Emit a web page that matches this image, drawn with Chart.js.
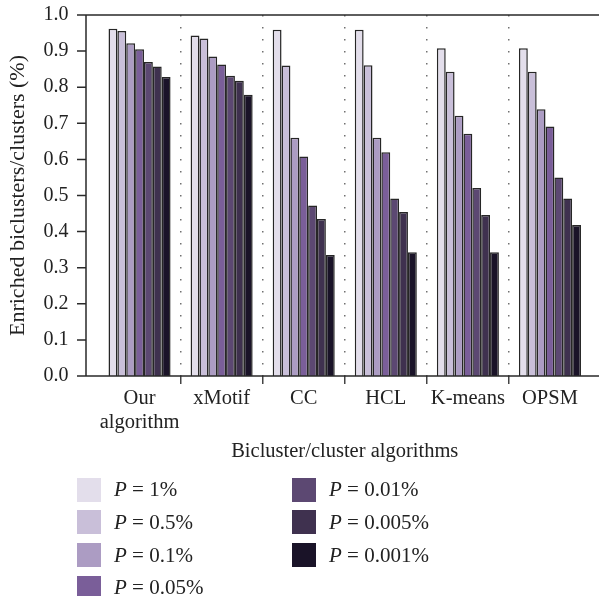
<!DOCTYPE html>
<html>
<head>
<meta charset="utf-8">
<script src="https://cdn.jsdelivr.net/npm/chart.js@4.4.1/dist/chart.umd.min.js"></script>
<style>
  body { margin: 0; background: #fff; }
  #page { position: relative; width: 599px; height: 596px; overflow: hidden; font-family: "Liberation Serif", "Times New Roman", serif; color: #222; }
  #wrap { position: absolute; left: 0; top: 0; width: 599px; height: 470px; }
  #legend { position: absolute; left: 0; top: 0; width: 599px; height: 596px; pointer-events: none; }
  .item { position: absolute; display: flex; align-items: center; font-size: 21px; white-space: nowrap; }
  .box { width: 24px; height: 24px; margin-right: 13px; }
</style>
</head>
<body>
<div id="page">
  <div id="wrap"><canvas id="bars"></canvas></div>
  <div id="legend"></div>
</div>
<script>
var algorithms = [['Our', 'algorithm'], 'xMotif', 'CC', 'HCL', 'K-means', 'OPSM'];
var pLevels = ['P = 1%', 'P = 0.5%', 'P = 0.1%', 'P = 0.05%', 'P = 0.01%', 'P = 0.005%', 'P = 0.001%'];
var colors = ['#E3DEEB', '#C9BFD9', '#AC9CC3', '#7A5E99', '#5C4872', '#3F314F', '#1A1328'];

// one array per P level, values for the six algorithms
var p1    = [0.962, 0.943, 0.959, 0.959, 0.908, 0.908];
var p05   = [0.956, 0.935, 0.860, 0.861, 0.843, 0.843];
var p01   = [0.922, 0.885, 0.660, 0.660, 0.721, 0.739];
var p005  = [0.905, 0.863, 0.608, 0.620, 0.671, 0.691];
var p001  = [0.870, 0.832, 0.472, 0.492, 0.521, 0.550];
var p0005 = [0.857, 0.818, 0.435, 0.454, 0.446, 0.492];
var p0001 = [0.828, 0.779, 0.335, 0.343, 0.343, 0.418];
var series = [p1, p05, p01, p005, p001, p0005, p0001];

var yTicks = [0, 0.1, 0.2, 0.3, 0.4, 0.5, 0.6, 0.7, 0.8, 0.9, 1.0];

var serif = '"Liberation Serif", "Times New Roman", serif';

// y axis line sits a bit left of the first category, draw it by hand
var axisFrame = {
    id: 'axisFrame',
    afterDatasetsDraw: function(chart) {
        var ctx = chart.ctx, a = chart.chartArea, y = chart.scales.y;
        var axisX = a.left - 12.5;
        ctx.save();
        ctx.strokeStyle = '#2a2a2a';
        ctx.lineWidth = 1.5;
        ctx.beginPath();
        ctx.moveTo(axisX, a.top);
        ctx.lineTo(axisX, a.bottom);
        ctx.moveTo(axisX, a.top);
        ctx.lineTo(chart.width, a.top);
        ctx.moveTo(axisX - 9, a.bottom);
        ctx.lineTo(chart.width, a.bottom);
        y.ticks.forEach(function(t) {
            var py = y.getPixelForValue(t.value);
            ctx.moveTo(axisX - 9, py);
            ctx.lineTo(axisX, py);
        });
        ctx.stroke();
        ctx.restore();
    }
};

var htmlLegend = {
    id: 'htmlLegend',
    afterUpdate: function(chart) {
        var box = document.getElementById('legend');
        box.innerHTML = '';
        var items = chart.options.plugins.legend.labels.generateLabels(chart);
        items.forEach(function(item, i) {
            var col = i < 4 ? 0 : 1;
            var row = i < 4 ? i : i - 4;
            var el = document.createElement('div');
            el.className = 'item';
            el.style.left = (col === 0 ? 77 : 292) + 'px';
            el.style.top = (477 + row * 32.8) + 'px';
            var sw = document.createElement('span');
            sw.className = 'box';
            sw.style.background = item.fillStyle;
            var tx = document.createElement('span');
            tx.innerHTML = '<i>P</i>' + item.text.slice(1);
            el.appendChild(sw);
            el.appendChild(tx);
            box.appendChild(el);
        });
    }
};

var ctx = document.getElementById('bars');
var barChart = new Chart(ctx, {
    type: 'bar',
    data: {
        labels: algorithms,
        datasets: series.map(function(s, i) {
            return {
                label: pLevels[i],
                data: s,
                backgroundColor: colors[i],
                borderColor: '#262626',
                borderWidth: 1.5,
                categoryPercentage: 0.756,
                barPercentage: 1
            };
        })
    },
    options: {
        responsive: true,
        maintainAspectRatio: false,
        animation: false,
        layout: { padding: { top: 15, right: 8, left: 0, bottom: 0 } },
        plugins: {
            legend: { display: false },
            tooltip: { enabled: false }
        },
        scales: {
            x: {
                offset: true,
                grid: {
                    offset: true,
                    color: function(c) { return (c.type !== 'tick' || c.index === 0) ? 'rgba(0,0,0,0)' : '#707070'; },
                    tickColor: function(c) { return (c.type !== 'tick' || c.index === 0) ? 'rgba(0,0,0,0)' : '#444'; },
                    lineWidth: 1.5,
                    tickLength: 8,
                    tickWidth: 1.5,
                    tickBorderDash: []
                },
                border: { display: false, dash: [1.5, 10.5] },
                ticks: {
                    color: '#222',
                    padding: 3,
                    maxRotation: 0,
                    autoSkip: false,
                    font: { family: serif, size: 20.5, lineHeight: 1.15 }
                },
                title: {
                    display: true,
                    text: 'Bicluster/cluster algorithms',
                    color: '#222',
                    padding: { top: 0, bottom: 6 },
                    font: { family: serif, size: 20.5, lineHeight: 1.2 }
                },
                afterFit: function(s) { s.height = 94; s.paddingLeft = 0; s.paddingRight = 0; }
            },
            y: {
                min: 0,
                max: 1,
                afterBuildTicks: function(s) { s.ticks = yTicks.map(function(v) { return { value: v }; }); },
                grid: { display: false, drawTicks: false },
                border: { display: false },
                ticks: {
                    color: '#222',
                    padding: 30,
                    font: { family: serif, size: 20 },
                    callback: function(v) { return v.toFixed(1); }
                },
                title: {
                    display: true,
                    text: 'Enriched biclusters/clusters (%)',
                    color: '#222',
                    padding: { top: 5, bottom: 0 },
                    font: { family: serif, size: 22, lineHeight: 1.2 }
                },
                afterFit: function(s) { s.width = 98.5; s.paddingTop = 0; s.paddingBottom = 0; }
            }
        }
    },
    plugins: [axisFrame, htmlLegend]
});
</script>
</body>
</html>
